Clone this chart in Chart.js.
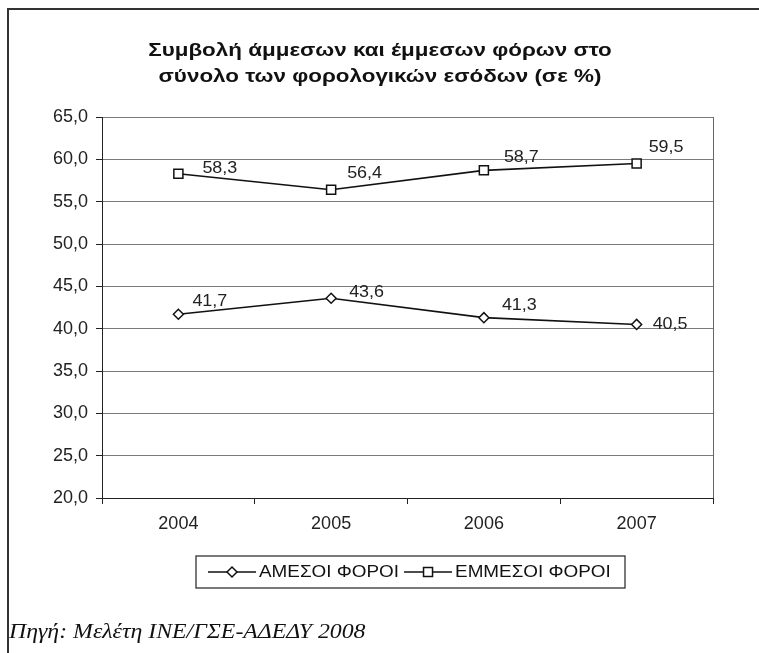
<!DOCTYPE html>
<html>
<head>
<meta charset="utf-8">
<script src="https://cdn.jsdelivr.net/npm/chart.js@4.4.1/dist/chart.umd.min.js"></script>
<style>
  html, body { margin: 0; padding: 0; background: #fff; }
  #wrap { width: 759px; height: 653px; }
</style>
</head>
<body>
<div id="wrap"><canvas id="taxChart" width="759" height="653"></canvas></div>
<script>
// data
const years = ["2004", "2005", "2006", "2007"];
const directTaxes = [41.7, 43.6, 41.3, 40.5];
const indirectTaxes = [58.3, 56.4, 58.7, 59.5];
const seriesNames = ["ΑΜΕΣΟΙ ΦΟΡΟΙ", "ΕΜΜΕΣΟΙ ΦΟΡΟΙ"];
const titleLines = ["Συμβολή άμμεσων και έμμεσων φόρων στο", "σύνολο των φορολογικών εσόδων (σε %)"];
const sourceText = "Πηγή: Μελέτη ΙΝΕ/ΓΣΕ-ΑΔΕΔΥ 2008";

const FONT = "'Liberation Sans', Arial, sans-serif";
const fmt = (v) => v.toFixed(1).replace(".", ",");

// where excel nudged each value label (dx, dy from the point)
const labelNudge = [
  [[14, -13], [18, -6], [18, -12], [16, 0]],
  [[24, -5], [16, -16], [20, -13], [12, -16]],
];

// the scan is a bit wider than it is tall, so text gets stretched sideways
function wideText(ctx, text, x, y, sx, align) {
  const w = ctx.measureText(text).width * sx;
  let left = x;
  if (align === "center") left = x - w / 2;
  else if (align === "right") left = x - w;
  ctx.save();
  ctx.textAlign = "left";
  ctx.translate(left, y);
  ctx.scale(sx, 1);
  ctx.fillText(text, 0, 0);
  ctx.restore();
  return w;
}

function marker(ctx, style, x, y) {
  ctx.save();
  ctx.fillStyle = "#fff";
  ctx.strokeStyle = "#111";
  ctx.lineWidth = 1.5;
  ctx.beginPath();
  if (style === "rectRot") {
    ctx.moveTo(x - 5, y); ctx.lineTo(x, y - 5); ctx.lineTo(x + 5, y); ctx.lineTo(x, y + 5);
    ctx.closePath();
  } else {
    ctx.rect(x - 4.5, y - 4.5, 9, 9);
  }
  ctx.fill();
  ctx.stroke();
  ctx.restore();
}

const decorPlugin = {
  id: "decor",
  beforeDraw(chart) {
    const ctx = chart.ctx;
    ctx.save();
    ctx.fillStyle = "#fff";
    ctx.fillRect(0, 0, chart.width, chart.height);
    // outer frame (top + left only, like the scan)
    ctx.strokeStyle = "#333";
    ctx.lineWidth = 2;
    ctx.beginPath();
    ctx.moveTo(8, chart.height);
    ctx.lineTo(8, 9);
    ctx.lineTo(chart.width, 9);
    ctx.stroke();
    ctx.restore();
  },
  afterDatasetsDraw(chart) {
    const ctx = chart.ctx;
    const a = chart.chartArea;
    ctx.save();
    // right border of the plot
    ctx.strokeStyle = "#666";
    ctx.lineWidth = 1;
    ctx.beginPath();
    ctx.moveTo(a.right + 0.5, a.top);
    ctx.lineTo(a.right + 0.5, a.bottom);
    ctx.stroke();
    // value labels
    ctx.font = "16px " + FONT;
    ctx.fillStyle = "#222";
    ctx.textBaseline = "middle";
    chart.data.datasets.forEach((ds, i) => {
      chart.getDatasetMeta(i).data.forEach((pt, j) => {
        const [dx, dy] = labelNudge[i][j];
        wideText(ctx, fmt(ds.data[j]), pt.x + dx, pt.y + dy, 1.12, "left");
      });
    });
    ctx.restore();
  },
  afterDraw(chart) {
    const ctx = chart.ctx;
    ctx.save();
    // title
    ctx.fillStyle = "#111";
    ctx.font = "bold 19px " + FONT;
    ctx.textBaseline = "middle";
    titleLines.forEach((t, i) => wideText(ctx, t, 380, 51 + i * 26, 1.18, "center"));

    // legend box
    ctx.font = "16px " + FONT;
    const boxL = 196, boxT = 556, boxR = 625, boxB = 588;
    ctx.strokeStyle = "#222";
    ctx.lineWidth = 1.2;
    ctx.strokeRect(boxL, boxT, boxR - boxL, boxB - boxT);
    const cy = (boxT + boxB) / 2;
    let x = boxL + 12;
    chart.data.datasets.forEach((ds) => {
      ctx.strokeStyle = "#111";
      ctx.lineWidth = 1.5;
      ctx.beginPath();
      ctx.moveTo(x, cy);
      ctx.lineTo(x + 48, cy);
      ctx.stroke();
      marker(ctx, ds.pointStyle, x + 24, cy);
      ctx.fillStyle = "#111";
      const w = wideText(ctx, ds.label, x + 51, cy + 1, 1.18, "left");
      x += 51 + w + 5;
    });

    // source note
    ctx.font = "italic 20px 'Liberation Serif', 'Times New Roman', serif";
    ctx.fillStyle = "#111";
    wideText(ctx, sourceText, 9, 633, 1.19, "left");
    ctx.restore();
  },
};

new Chart(document.getElementById("taxChart"), {
  type: "line",
  data: {
    labels: years,
    datasets: [
      {
        label: seriesNames[0],
        data: directTaxes,
        borderColor: "#111",
        borderWidth: 1.6,
        pointStyle: "rectRot",
        pointRadius: 5,
        pointBackgroundColor: "#fff",
        pointBorderColor: "#111",
        pointBorderWidth: 1.5,
        tension: 0,
      },
      {
        label: seriesNames[1],
        data: indirectTaxes,
        borderColor: "#111",
        borderWidth: 1.6,
        pointStyle: "rect",
        pointRadius: 6.4,
        pointBackgroundColor: "#fff",
        pointBorderColor: "#111",
        pointBorderWidth: 1.5,
        tension: 0,
      },
    ],
  },
  options: {
    responsive: false,
    animation: false,
    devicePixelRatio: 1,
    layout: { padding: { left: 0, right: 46, top: 117, bottom: 115 } },
    plugins: {
      legend: { display: false },
      title: { display: false },
      tooltip: { enabled: false },
    },
    scales: {
      x: {
        offset: true,
        afterFit: (s) => { s.height = 40; },
        grid: { display: true, drawOnChartArea: false, offset: true, tickLength: 6, color: "#222" },
        border: { color: "#222", width: 1 },
        ticks: { color: "#222", font: { family: FONT, size: 18 }, padding: 9 },
      },
      y: {
        min: 20,
        max: 65,
        afterFit: (s) => { s.width = 102; },
        grid: { color: "#7a7a7a", lineWidth: 1, tickLength: 6, tickColor: "#222" },
        border: { color: "#222", width: 1 },
        ticks: {
          stepSize: 5,
          color: "#222",
          font: { family: FONT, size: 18 },
          padding: 8,
          callback: (v) => fmt(v),
        },
      },
    },
  },
  plugins: [decorPlugin],
});
</script>
</body>
</html>
